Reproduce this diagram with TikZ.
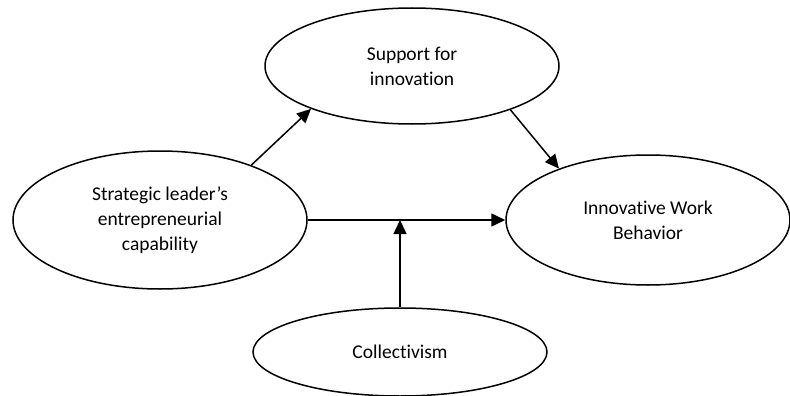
\documentclass[tikz,border=0pt]{standalone}
\usepackage{fontspec}
\setmainfont{Carlito}[Ligatures=NoCommon]
\usetikzlibrary{shapes.geometric,arrows.meta}

\begin{document}
\begin{tikzpicture}[x=1pt,y=-1pt,every path/.append style={line width=1.5pt},oval/.style={draw,ellipse,inner sep=0pt,align=center,font=\fontsize{19.5}{25}\selectfont},arr/.style={-{Triangle[length=14pt,width=13pt]}}]
			\useasboundingbox (0,0) rectangle (790,396);
			\node (SI)   at (412, 66)  [oval,minimum width=294pt,minimum height=116pt] {Support for\\innovation};
			\node (SLEC) at (160, 220) [oval,minimum width=294pt,minimum height=138pt] {Strategic leader’s\\entrepreneurial\\capability};
			\node (IWB)  at (648, 220) [oval,minimum width=284pt,minimum height=130pt] {Innovative Work\\Behavior};
			\node (Col)  at (400, 352) [oval,minimum width=294pt,minimum height=88pt]  {Collectivism};
			\draw      [arr] (SLEC.31) -- (SI.203);
			\draw      [arr] (SI.336) -- (IWB.150);
			\draw      [arr] (SLEC.east) -- (IWB.west);
			\coordinate (M) at (Col.north |- SLEC.east);
			\draw      [arr] (Col.north) -- (M);
		\end{tikzpicture}
\end{document}
